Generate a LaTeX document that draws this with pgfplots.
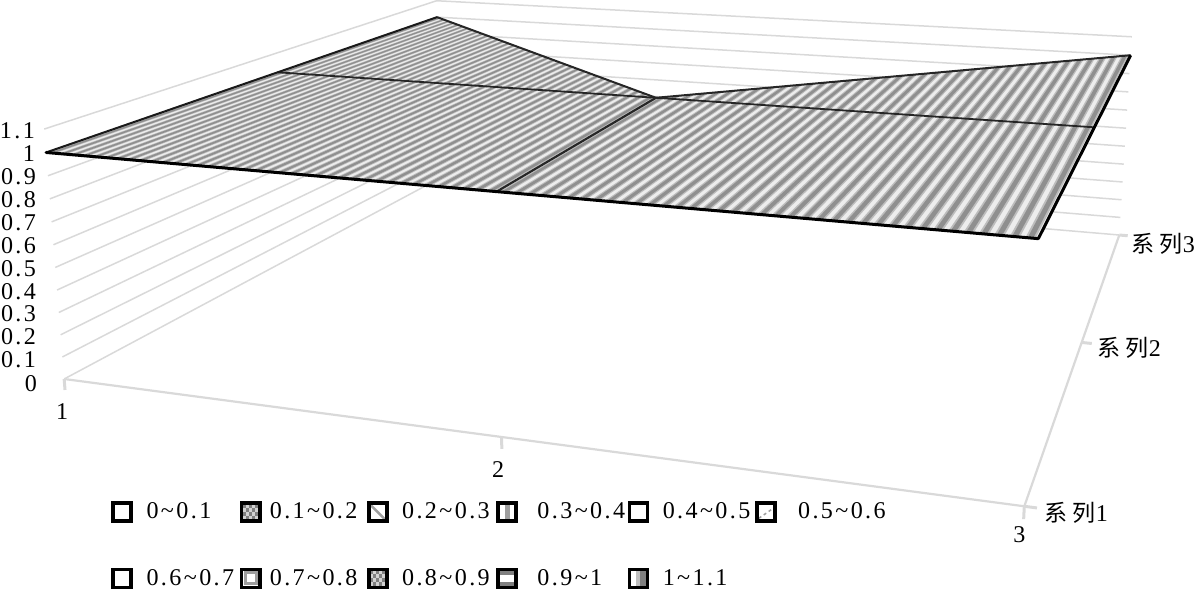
\documentclass[border=0pt]{standalone}
\usepackage{fontspec}
\usepackage{pgfplots}
\usepackage{pgfplotstable}
\pgfplotsset{compat=1.18}
\setmainfont[LetterSpace=10]{Liberation Serif}
\newfontfamily\cjk{Noto Sans CJK SC}

% perspective of the chart: (category, series, value) to picture position
\newcommand\PW[3]{(1-0.08159*(#1-1)+0.219705*(#2-1)-0.03*(#3))}
\newcommand\PX[3]{((65+395.5*(#1-1)+285.2*(#2-1)-19.41*(#3))/\PW{#1}{#2}{#3})}
\newcommand\PY[3]{((378+22.29*(#1-1)-61.74*(#2-1)-230.56*(#3))/\PW{#1}{#2}{#3})}
\pgfplotsset{/pgfplots/table/proj/.style={
  x expr=\PX{\thisrow{c}}{\thisrow{s}}{\thisrow{v}},
  y expr=\PY{\thisrow{c}}{\thisrow{s}}{\thisrow{v}}}}

% surface outline, point (2,3) has no value
\pgfplotstableread{
c s v
1 1 1
2 1 1
3 1 1
3 2 1
3 3 1
2 2 1
1 3 1
1 2 1
}\surfacetab
\pgfplotstableread{
c s v
1 1 1
2 1 1
3 1 1
}\frontedge
\pgfplotstableread{
c s v
3 1 1
3 2 1
3 3 1
}\rightedge
\pgfplotstableread{
c s v
1 1 1
1 2 1
1 3 1
}\leftedge
\pgfplotstableread{
c s v
1 3 1
2 2 1
3 3 1
}\backedge
\pgfplotstableread{
c s v
1 2 1
2 2 1
3 2 1
}\seriestwo
\pgfplotstableread{
c s v
2 1 1
2 2 1
}\cattwo
\pgfplotstableread{
c s v
1 1 0
2 1 0
3 1 0
3 2 0
3 3 0
}\flooredge
% walls
\pgfplotstableread{
c s
1 1
1 3
3 3
}\walltab
% one stripe of the surface texture
\pgfplotstableread{
t top
0 0
1 0
1 1
0 1
}\quadtab
\newcommand\StC[2]{(1+(#1+#2*\thisrow{t})/38)}
\newcommand\StS[2]{(1+\thisrow{top}*(1+abs(\StC{#1}{#2}-2)))}

\definecolor{gridc}{gray}{0.85}
\definecolor{lightst}{gray}{0.93}
\definecolor{midst}{gray}{0.74}
\definecolor{darkst}{gray}{0.56}
\definecolor{swg}{gray}{0.62}

% legend key: x, y of top left corner, then what goes inside
\newcommand\swatch[3]{%
  \begin{scope}[shift={(axis cs:#1,#2)},x=1pt,y=-1pt]
    \fill[white] (1,1) rectangle (21,21);
    #3
    \draw[line width=3.8pt] (2,2) rectangle (20,20);
  \end{scope}}
\newcommand\chk[2]{\fill[gray] (#1,#2) rectangle ++(3.5,4);}
\newcommand\checker{%
  \fill[gray!35] (3,3) rectangle (19,19);
  \chk{3}{3}\chk{9}{3}\chk{15}{3}\chk{6}{7}\chk{12}{7}
  \chk{3}{11}\chk{9}{11}\chk{15}{11}\chk{6}{15}\chk{12}{15}}

\begin{document}
\begin{tikzpicture}[every node/.style={font=\fontsize{24}{26}\selectfont,inner sep=0pt}]
\begin{axis}[
  scale only axis,
  width=1195pt,
  height=590pt,
  xmin=0, xmax=1195,
  ymin=0, ymax=590,
  y dir=reverse,
  axis lines=none,
  clip=false,
]
% wall gridlines, value 0 to 1.1
\pgfplotsinvokeforeach{0,...,11}{
  \addplot[gridc,line width=1.5pt] table[
    x expr=\PX{\thisrow{c}}{\thisrow{s}}{#1/10},
    y expr=\PY{\thisrow{c}}{\thisrow{s}}{#1/10}] {\walltab};
}
\addplot[gridc,line width=2.2pt] table[proj] {\flooredge};
% axis ticks
\addplot[gridc,line width=3pt] table[proj,row sep=\\] {c s v\\ 1 1 0\\ 1 1 -0.05\\};
\addplot[gridc,line width=3pt] table[proj,row sep=\\] {c s v\\ 2 1 0\\ 2 1 -0.05\\};
\addplot[gridc,line width=3pt] table[proj,row sep=\\] {c s v\\ 3 1 0\\ 3 1 -0.05\\};
\addplot[gridc,line width=3pt] table[proj,row sep=\\] {c s v\\ 3 1 0\\ 3.022 1 0\\};
\addplot[gridc,line width=3pt] table[proj,row sep=\\] {c s v\\ 3 2 0\\ 3.022 2 0\\};
\addplot[gridc,line width=3pt] table[proj,row sep=\\] {c s v\\ 3 3 0\\ 3.022 3 0\\};

% surface and its texture
\addplot[fill=lightst,draw=none] table[proj] {\surfacetab};
\pgfplotsinvokeforeach{0,...,75}{
  \addplot[fill=midst,draw=none] table[
    x expr=\PX{\StC{#1+0.18}{0.64}}{\StS{#1+0.18}{0.64}}{1},
    y expr=\PY{\StC{#1+0.18}{0.64}}{\StS{#1+0.18}{0.64}}{1}] {\quadtab};
  \addplot[fill=darkst,draw=none] table[
    x expr=\PX{\StC{#1+0.32}{0.36}}{\StS{#1+0.32}{0.36}}{1},
    y expr=\PY{\StC{#1+0.32}{0.36}}{\StS{#1+0.32}{0.36}}{1}] {\quadtab};
}
\addplot[black!85,line width=1.8pt] table[proj] {\seriestwo};
\addplot[black!85,line width=2.2pt] table[proj] {\cattwo};
\addplot[black!85,line width=2pt] table[proj] {\backedge};
\addplot[black!90,line width=2pt] table[proj] {\leftedge};
\addplot[black,line width=3pt] table[proj] {\rightedge};
\addplot[black,line width=3pt,line cap=round] table[proj] {\frontedge};

% value labels
\node[anchor=east] at (axis cs:36,130) {1.1};
\node[anchor=east] at (axis cs:36,153) {1};
\node[anchor=east] at (axis cs:37,176) {0.9};
\node[anchor=east] at (axis cs:37,199) {0.8};
\node[anchor=east] at (axis cs:37,222) {0.7};
\node[anchor=east] at (axis cs:37,245) {0.6};
\node[anchor=east] at (axis cs:37,268) {0.5};
\node[anchor=east] at (axis cs:37,291) {0.4};
\node[anchor=east] at (axis cs:37,313) {0.3};
\node[anchor=east] at (axis cs:37,336) {0.2};
\node[anchor=east] at (axis cs:37,359) {0.1};
\node[anchor=east] at (axis cs:38,383) {0};
% category and series labels
\node at (axis cs:63,410) {1};
\node at (axis cs:498,468) {2};
\node at (axis cs:1018,533) {3};
\node[anchor=west] at (axis cs:1130,243) {{\cjk\fontsize{23}{24}\selectfont 系\hspace{5pt}列}3};
\node[anchor=west] at (axis cs:1096,347) {{\cjk\fontsize{23}{24}\selectfont 系\hspace{5pt}列}2};
\node[anchor=west] at (axis cs:1043,512) {{\cjk\fontsize{23}{24}\selectfont 系\hspace{5pt}列}1};

% legend, first row
\swatch{112}{500}{}
\swatch{240}{500}{\checker}
\swatch{367}{500}{\draw[swg,line width=2.5pt] (4,4) -- (18,18);}
\swatch{496}{500}{\fill[swg] (9,2) rectangle (14,20);}
\swatch{627}{500}{}
\swatch{754}{500}{\draw[swg,line width=1.5pt,dashed] (4,17) -- (17,8);}
\node[anchor=west] at (axis cs:147,509) {0\textasciitilde0.1};
\node[anchor=west] at (axis cs:270,509) {0.1\textasciitilde0.2};
\node[anchor=west] at (axis cs:402,509) {0.2\textasciitilde0.3};
\node[anchor=west] at (axis cs:537,509) {0.3\textasciitilde0.4};
\node[anchor=west] at (axis cs:662,509) {0.4\textasciitilde0.5};
\node[anchor=west] at (axis cs:797,509) {0.5\textasciitilde0.6};
% legend, second row
\swatch{112}{566}{}
\swatch{240}{566}{\draw[swg,line width=3pt] (5.5,5.5) rectangle (16.5,16.5);}
\swatch{367}{566}{\checker}
\swatch{496}{566}{\fill[gray] (2,2) rectangle (20,8); \fill[gray] (2,15) rectangle (20,20);}
\swatch{627}{566}{\fill[gray] (12,2) rectangle (20,20); \fill[gray!50] (9,2) rectangle (12,20);}
\node[anchor=west] at (axis cs:147,576) {0.6\textasciitilde0.7};
\node[anchor=west] at (axis cs:270,576) {0.7\textasciitilde0.8};
\node[anchor=west] at (axis cs:402,576) {0.8\textasciitilde0.9};
\node[anchor=west] at (axis cs:537,576) {0.9\textasciitilde1};
\node[anchor=west] at (axis cs:662,576) {1\textasciitilde1.1};
\end{axis}
\end{tikzpicture}
\end{document}
